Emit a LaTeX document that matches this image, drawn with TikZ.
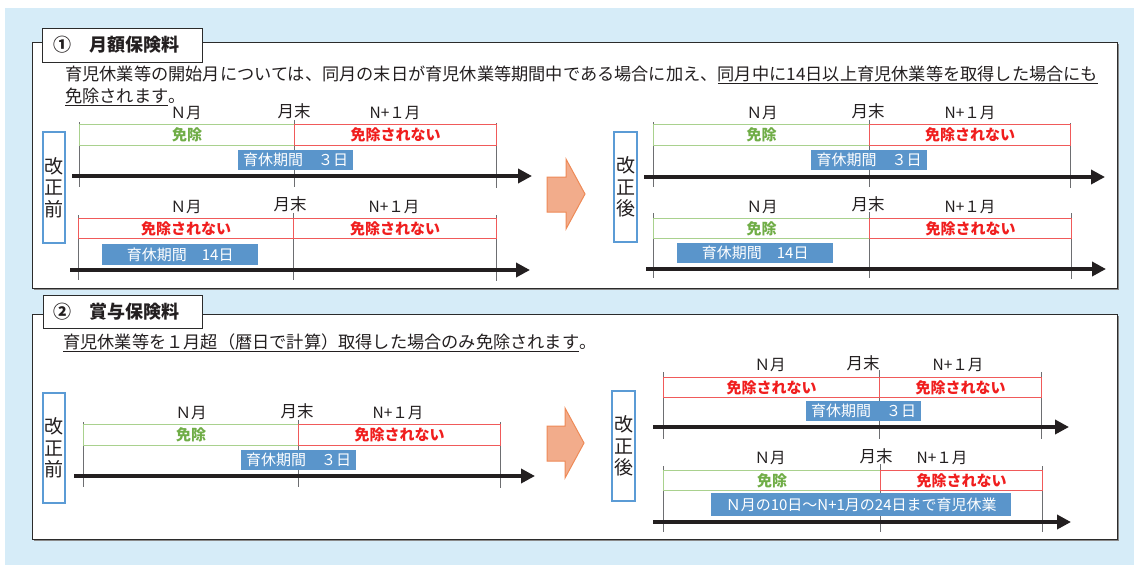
\documentclass[tikz,border=0pt]{standalone}
\usepackage{fontspec}
\setmainfont{Noto Sans CJK JP}
\usetikzlibrary{arrows.meta}
\definecolor{bgblue}{HTML}{D6ECF8}
\definecolor{panelline}{HTML}{2B2B2B}
\definecolor{shadowgray}{HTML}{8A8A8A}
\definecolor{txt}{HTML}{231F20}
\definecolor{vblue}{HTML}{5B9BD5}
\definecolor{gline}{HTML}{A9D18E}
\definecolor{gtext}{HTML}{70AD47}
\definecolor{rline}{HTML}{F05A5A}
\definecolor{rtext}{HTML}{F01E1E}
\definecolor{pblue}{HTML}{5A95CB}
\definecolor{tgray}{HTML}{6D6E71}
\definecolor{ablack}{HTML}{231F20}
\definecolor{oline}{HTML}{EE8A57}
\definecolor{ofill}{HTML}{F2AC8B}
\tikzset{
 panel/.style={draw=panelline, line width=1.3pt, fill=white, inner sep=0, anchor=north west},
 hdr/.style={draw=panelline, line width=1.3pt, fill=white, inner sep=0, anchor=north west},
 hdrtext/.style={inner sep=0, anchor=west, text=txt, font=\bfseries\fontsize{18}{18}\selectfont},
 vbox/.style={draw=vblue, line width=1.3pt, fill=white, inner sep=0, align=center, text=txt, font=\fontsize{19}{21.5}\selectfont},
 gbox/.style={draw=gline, line width=1.2pt, inner sep=0, anchor=north west, text=gtext, font=\bfseries\fontsize{15}{15}\selectfont},
 rbox/.style={draw=rline, line width=1.2pt, inner sep=0, anchor=north west, text=rtext, font=\bfseries\fontsize{15}{15}\selectfont},
 pbox/.style={fill=pblue, text=white, inner sep=0, anchor=north west, font=\fontsize{15}{15}\selectfont},
 lab/.style={inner sep=0, text=txt, font=\fontsize{15.5}{15.5}\selectfont},
 endlab/.style={inner sep=0, text=txt, font=\fontsize{16.5}{16.5}\selectfont},
 tickline/.style={draw=tgray, line width=1pt},
 tarrow/.style={draw=ablack, line width=4pt, -{Triangle[length=14pt,width=14pt]}},
 body/.style={inner sep=0, anchor=west, text=txt, font=\fontsize{17.2}{17.2}\selectfont},
 orarrow/.style={draw=oline, line width=1pt, fill=ofill},
}
\begin{document}
\begin{tikzpicture}[x=1pt,y=-1pt]
\useasboundingbox (0,0) rectangle (1134,565);
\fill[bgblue] (5,8) rectangle (1134,565);

% ===== panel 1 =====
\fill[shadowgray] (33.5,43.5) rectangle (1118.5,289.5);
\node[panel, minimum width=1085pt, minimum height=246pt] (p1) at (32,42) {};
\node[hdr, minimum width=160pt, minimum height=34pt] (h1) at (42,28) {};
\node[hdrtext] (h1t) at (53,45) {①　月額保険料};
\node[body] (t1a) at (65,75) {育児休業等の開始月については、同月の末日が育児休業等期間中である場合に加え、\underline{同月中に14日以上育児休業等を取得した場合にも}};
\node[body] (t1b) at (65,97) {\underline{免除されます}。};

% diagram A
\draw[tickline] (79,122) -- (79,187);
\draw[tickline] (294,120) -- (294,187);
\draw[tickline] (496,123) -- (496,188);
\node[gbox, minimum width=215pt, minimum height=21pt] (a1) at (79,124) {免除};
\node[rbox, minimum width=202pt, minimum height=21pt] (a2) at (294,124) {免除されない};
\node[lab] (an) at (186,113) {Ｎ月};
\node[endlab] (am) at (294,111) {月末};
\node[lab] (an1) at (395,113) {N+１月};
\node[pbox, minimum width=115pt, minimum height=20pt] (ap) at (238,150) {育休期間　３日};
\coordinate (as) at (72,176); \coordinate (ae) at (532,176);
\draw[tarrow] (as) -- (ae);

% diagram B
\draw[tickline] (78,215) -- (78,280);
\draw[tickline] (293,213) -- (293,280);
\draw[tickline] (496,215) -- (496,281);
\node[rbox, minimum width=215pt, minimum height=20pt] (b1) at (78,218) {免除されない};
\node[rbox, minimum width=203pt, minimum height=20pt] (b2) at (293,218) {免除されない};
\node[lab] (bn) at (186,207) {Ｎ月};
\node[endlab] (bm) at (290,204) {月末};
\node[lab] (bn1) at (394,207) {N+１月};
\node[pbox, minimum width=156pt, minimum height=21pt] (bp) at (102,244) {育休期間　14日};
\coordinate (bs) at (70,270); \coordinate (be) at (530,270);
\draw[tarrow] (bs) -- (be);

\node[vbox, minimum width=22pt, minimum height=111pt] (v1) at (54,187.5) {改\\正\\前};
\draw[orarrow] (547,177) -- (566,177) -- (566,159) -- (585,194) -- (566,229) -- (566,212) -- (547,212) -- cycle;
\node[vbox, minimum width=23pt, minimum height=110pt] (v2) at (625.5,187) {改\\正\\後};

% diagram C
\draw[tickline] (653,122) -- (653,187);
\draw[tickline] (869,120) -- (869,187);
\draw[tickline] (1070,123) -- (1070,188);
\node[gbox, minimum width=216pt, minimum height=21pt] (c1) at (653,124) {免除};
\node[rbox, minimum width=201pt, minimum height=21pt] (c2) at (869,124) {免除されない};
\node[lab] (cn) at (762,113) {Ｎ月};
\node[endlab] (cm) at (868,111) {月末};
\node[lab] (cn1) at (970,113) {N+１月};
\node[pbox, minimum width=116pt, minimum height=20pt] (cp) at (811,150) {育休期間　３日};
\coordinate (cs) at (644,177); \coordinate (ce) at (1105,177);
\draw[tarrow] (cs) -- (ce);

% diagram D
\draw[tickline] (653,213) -- (653,278);
\draw[tickline] (869,212) -- (869,278);
\draw[tickline] (1071,213) -- (1071,279);
\node[gbox, minimum width=216pt, minimum height=20pt] (d1) at (653,218) {免除};
\node[rbox, minimum width=202pt, minimum height=20pt] (d2) at (869,218) {免除されない};
\node[lab] (dn) at (762,207) {Ｎ月};
\node[endlab] (dm) at (868,204) {月末};
\node[lab] (dn1) at (970,207) {N+１月};
\node[pbox, minimum width=156pt, minimum height=20pt] (dp) at (677,243) {育休期間　14日};
\coordinate (ds) at (646,269); \coordinate (de) at (1106,269);
\draw[tarrow] (ds) -- (de);

% ===== panel 2 =====
\fill[shadowgray] (33.5,315.5) rectangle (1118.5,540.5);
\node[panel, minimum width=1085pt, minimum height=225pt] (p2) at (32,314) {};
\node[hdr, minimum width=159pt, minimum height=33pt] (h2) at (43,295) {};
\node[hdrtext] (h2t) at (53,312) {②　賞与保険料};
\node[body] (t2) at (63,343) {\underline{育児休業等を１月超（暦日で計算）取得した場合のみ免除されます}。};

% diagram E
\draw[tickline] (83,422) -- (83,487);
\draw[tickline] (298,420) -- (298,487);
\draw[tickline] (500,422) -- (500,488);
\node[gbox, minimum width=215pt, minimum height=21pt] (e1) at (83,424) {免除};
\node[rbox, minimum width=202pt, minimum height=21pt] (e2) at (298,424) {免除されない};
\node[lab] (en) at (191,413) {Ｎ月};
\node[endlab] (em) at (297,411) {月末};
\node[lab] (en1) at (398,413) {N+１月};
\node[pbox, minimum width=115pt, minimum height=20pt] (ep) at (241,450) {育休期間　３日};
\coordinate (es) at (74,476); \coordinate (ee) at (535,476);
\draw[tarrow] (es) -- (ee);

\node[vbox, minimum width=22pt, minimum height=110pt] (v3) at (54,448) {改\\正\\前};
\draw[orarrow] (547,426) -- (565,426) -- (565,408) -- (584,443) -- (565,478) -- (565,461) -- (547,461) -- cycle;
\node[vbox, minimum width=23pt, minimum height=110pt] (v4) at (623.5,446) {改\\正\\後};

% diagram F
\draw[tickline] (663,372) -- (663,439);
\draw[tickline] (879,370) -- (879,439);
\draw[tickline] (1041,372) -- (1041,439);
\node[rbox, minimum width=216pt, minimum height=20pt] (f1) at (663,377) {免除されない};
\node[rbox, minimum width=162pt, minimum height=20pt] (f2) at (879,377) {免除されない};
\node[lab] (fn) at (770,365) {Ｎ月};
\node[endlab] (fm) at (863,363) {月末};
\node[lab] (fn1) at (958,365) {N+１月};
\node[pbox, minimum width=115pt, minimum height=20pt] (fp) at (806,401) {育休期間　３日};
\coordinate (fs) at (653,427); \coordinate (fe) at (1069,427);
\draw[tarrow] (fs) -- (fe);

% diagram G
\draw[tickline] (663,466) -- (663,532);
\draw[tickline] (880,464) -- (880,532);
\draw[tickline] (1042,466) -- (1042,532);
\node[gbox, minimum width=217pt, minimum height=20pt] (g1) at (663,470) {免除};
\node[rbox, minimum width=162pt, minimum height=20pt] (g2) at (880,470) {免除されない};
\node[lab] (gn) at (770,458) {Ｎ月};
\node[endlab] (gm) at (876,456) {月末};
\node[lab] (gn1) at (942,458) {N+１月};
\node[pbox, minimum width=300pt, minimum height=23pt] (gp) at (711,493) {Ｎ月の10日～N+1月の24日まで育児休業};
\coordinate (gs) at (653,522); \coordinate (ge) at (1071,522);
\draw[tarrow] (gs) -- (ge);
\end{tikzpicture}
\end{document}
